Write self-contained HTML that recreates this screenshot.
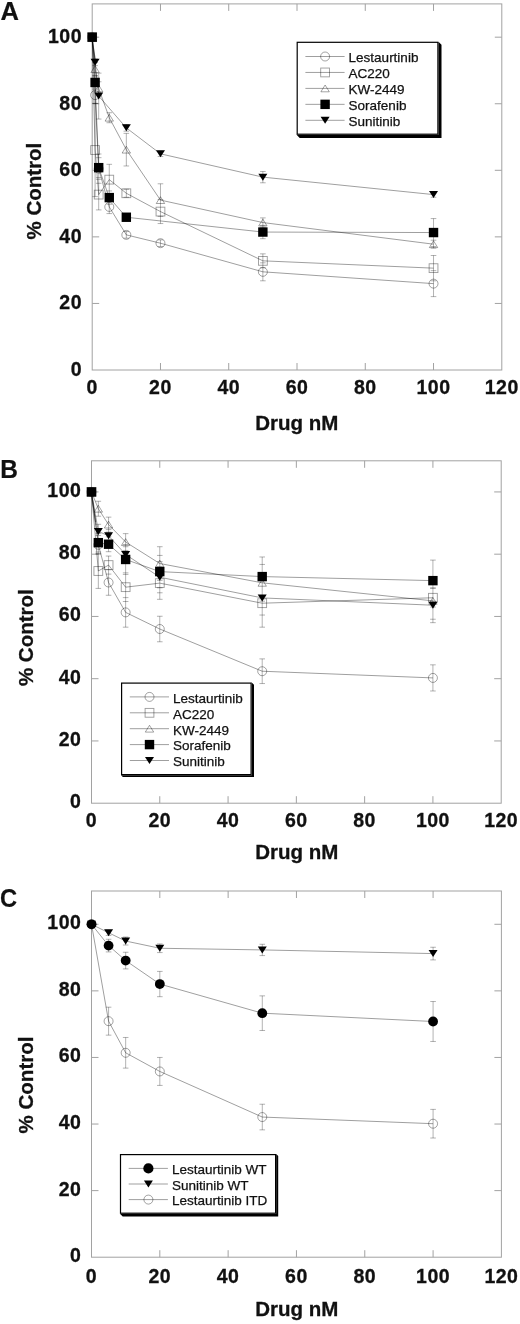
<!DOCTYPE html>
<html><head><meta charset="utf-8"><title>Figure</title>
<style>
html,body{margin:0;padding:0;background:#fff}
svg{display:block;will-change:transform}
text{font-family:"Liberation Sans",sans-serif;fill:#111}
.tk{font-size:19.5px;font-weight:bold;letter-spacing:.5px;stroke:#111;stroke-width:.3px}
.ax{font-size:20.5px;font-weight:bold;stroke:#111;stroke-width:.3px}
.pl{font-size:25.5px;font-weight:bold;stroke:#111;stroke-width:.2px}
.lg{font-size:13.5px;fill:#111;stroke:#111;stroke-width:.25px}
.mk{fill:none;stroke:#000;stroke-opacity:.4;stroke-width:.9}
.ln{fill:none;stroke:#000;stroke-opacity:.42;stroke-width:.9}
.eb{fill:none;stroke:#000;stroke-opacity:.36;stroke-width:.85}
</style></head><body>
<svg width="520" height="1324" viewBox="0 0 520 1324">
<rect width="520" height="1324" fill="#fff"/>
<rect x="92.2" y="3.9" width="409.6" height="366.1" fill="none" stroke="#a2a2a2" stroke-width="1"/>
<path d="M160.47 370 v-7 M160.47 3.9 v7 M228.73 370 v-7 M228.73 3.9 v7 M297 370 v-7 M297 3.9 v7 M365.27 370 v-7 M365.27 3.9 v7 M433.53 370 v-7 M433.53 3.9 v7 M92.2 303.44 h7 M501.8 303.44 h-7 M92.2 236.87 h7 M501.8 236.87 h-7 M92.2 170.31 h7 M501.8 170.31 h-7 M92.2 103.75 h7 M501.8 103.75 h-7 M92.2 37.18 h7 M501.8 37.18 h-7" fill="none" stroke="#a2a2a2" stroke-width="1"/>
<text class="tk" x="92.2" y="394.2" text-anchor="middle">0</text>
<text class="tk" x="160.47" y="394.2" text-anchor="middle">20</text>
<text class="tk" x="228.73" y="394.2" text-anchor="middle">40</text>
<text class="tk" x="297" y="394.2" text-anchor="middle">60</text>
<text class="tk" x="365.27" y="394.2" text-anchor="middle">80</text>
<text class="tk" x="433.53" y="394.2" text-anchor="middle">100</text>
<text class="tk" x="501.8" y="394.2" text-anchor="middle">120</text>
<text class="tk" x="82" y="375.9" text-anchor="end">0</text>
<text class="tk" x="82" y="309.34" text-anchor="end">20</text>
<text class="tk" x="82" y="242.77" text-anchor="end">40</text>
<text class="tk" x="82" y="176.21" text-anchor="end">60</text>
<text class="tk" x="82" y="109.65" text-anchor="end">80</text>
<text class="tk" x="82" y="43.08" text-anchor="end">100</text>
<text class="ax" x="296.8" y="429.6" text-anchor="middle">Drug nM</text>
<text class="ax" transform="translate(41 191.1) rotate(-90)" text-anchor="middle">% Control</text>
<text class="pl" transform="translate(0.4 19.9) scale(1.0 1)">A</text>
<path d="M92.2 37.18 L95.1 95.09 L98.69 168.64 L109.27 206.92 L126.33 234.88 L160.47 243.2 L262.87 271.82 L433.53 283.63" class="ln"/>
<path d="M92.2 37.18 L95.1 150.01 L98.69 194.6 L109.27 179.63 L126.33 193.27 L160.47 211.58 L262.87 260.84 L433.53 268.16" class="ln"/>
<path d="M92.2 37.18 L95.1 69.13 L98.69 88.44 L109.27 117.72 L126.33 149.67 L160.47 200.1 L262.87 222.56 L433.53 244.19" class="ln"/>
<path d="M92.2 37.18 L95.1 82.45 L98.69 167.65 L109.27 197.6 L126.33 217.24 L262.87 232.05 L433.53 232.55" class="ln"/>
<path d="M92.2 37.18 L95.1 62.31 L98.69 96.09 L126.33 127.87 L160.47 153.83 L262.87 177.13 L433.53 194.6" class="ln"/>
<path d="M92.2 40 L95.2 60" stroke="#000" stroke-opacity=".55" stroke-width="1.3" fill="none"/>
<path d="M95.1 58.98V196.6M92.3 58.98h5.6M92.3 65.64h5.6M92.3 62.48h5.6M92.3 75.79h5.6M92.3 75.79h5.6M92.3 89.1h5.6M92.3 86.77h5.6M92.3 103.41h5.6M92.3 103.41h5.6M92.3 196.6h5.6M98.69 73.13V119.06M98.69 154V209.91M95.89 73.13h5.6M95.89 119.06h5.6M95.89 81.78h5.6M95.89 95.09h5.6M95.89 154h5.6M95.89 183.29h5.6M95.89 157.66h5.6M95.89 177.63h5.6M95.89 179.3h5.6M95.89 209.91h5.6M109.27 112.73V122.72M109.27 164.32V213.58M106.47 112.73h5.6M106.47 122.72h5.6M106.47 164.32h5.6M106.47 194.94h5.6M106.47 190.94h5.6M106.47 204.26h5.6M106.47 200.26h5.6M106.47 213.58h5.6M126.33 124.55V131.2M126.33 133.37V165.98M126.33 189.28V197.27M126.33 213.91V220.56M126.33 231.55V238.2M123.53 124.55h5.6M123.53 131.2h5.6M123.53 133.37h5.6M123.53 165.98h5.6M123.53 189.28h5.6M123.53 197.27h5.6M123.53 213.91h5.6M123.53 220.56h5.6M123.53 231.55h5.6M123.53 238.2h5.6M160.47 151.17V156.5M160.47 183.79V223.56M160.47 239.87V246.52M157.67 151.17h5.6M157.67 156.5h5.6M157.67 183.79h5.6M157.67 216.4h5.6M157.67 199.6h5.6M157.67 223.56h5.6M157.67 239.87h5.6M157.67 246.52h5.6M262.87 171.47V182.79M262.87 217.9V238.7M262.87 253.85V280.8M260.07 171.47h5.6M260.07 182.79h5.6M260.07 217.9h5.6M260.07 227.22h5.6M260.07 225.39h5.6M260.07 238.7h5.6M260.07 253.85h5.6M260.07 267.82h5.6M260.07 262.83h5.6M260.07 280.8h5.6M433.53 191.94V197.27M433.53 218.57V248.19M433.53 255.51V296.61M430.73 191.94h5.6M430.73 197.27h5.6M430.73 218.57h5.6M430.73 246.52h5.6M430.73 240.2h5.6M430.73 248.19h5.6M430.73 255.51h5.6M430.73 280.8h5.6M430.73 270.65h5.6M430.73 296.61h5.6" class="eb"/>
<circle cx="92.2" cy="37.18" r="4.5" class="mk"/>
<circle cx="95.1" cy="95.09" r="4.5" class="mk"/>
<circle cx="98.69" cy="168.64" r="4.5" class="mk"/>
<circle cx="109.27" cy="206.92" r="4.5" class="mk"/>
<circle cx="126.33" cy="234.88" r="4.5" class="mk"/>
<circle cx="160.47" cy="243.2" r="4.5" class="mk"/>
<circle cx="262.87" cy="271.82" r="4.5" class="mk"/>
<circle cx="433.53" cy="283.63" r="4.5" class="mk"/>
<rect x="87.8" y="32.78" width="8.8" height="8.8" class="mk"/>
<rect x="90.7" y="145.61" width="8.8" height="8.8" class="mk"/>
<rect x="94.29" y="190.2" width="8.8" height="8.8" class="mk"/>
<rect x="104.87" y="175.23" width="8.8" height="8.8" class="mk"/>
<rect x="121.93" y="188.87" width="8.8" height="8.8" class="mk"/>
<rect x="156.07" y="207.18" width="8.8" height="8.8" class="mk"/>
<rect x="258.47" y="256.44" width="8.8" height="8.8" class="mk"/>
<rect x="429.13" y="263.76" width="8.8" height="8.8" class="mk"/>
<path d="M88 40.58 L96.4 40.58 L92.2 33.78 Z" class="mk"/>
<path d="M90.9 72.53 L99.3 72.53 L95.1 65.73 Z" class="mk"/>
<path d="M94.49 91.84 L102.89 91.84 L98.69 85.04 Z" class="mk"/>
<path d="M105.07 121.12 L113.47 121.12 L109.27 114.32 Z" class="mk"/>
<path d="M122.13 153.07 L130.53 153.07 L126.33 146.27 Z" class="mk"/>
<path d="M156.27 203.5 L164.67 203.5 L160.47 196.7 Z" class="mk"/>
<path d="M258.67 225.96 L267.07 225.96 L262.87 219.16 Z" class="mk"/>
<path d="M429.33 247.59 L437.73 247.59 L433.53 240.79 Z" class="mk"/>
<rect x="87.5" y="32.48" width="9.4" height="9.4" fill="#000"/>
<rect x="90.4" y="77.75" width="9.4" height="9.4" fill="#000"/>
<rect x="93.99" y="162.95" width="9.4" height="9.4" fill="#000"/>
<rect x="104.57" y="192.9" width="9.4" height="9.4" fill="#000"/>
<rect x="121.63" y="212.54" width="9.4" height="9.4" fill="#000"/>
<rect x="258.17" y="227.35" width="9.4" height="9.4" fill="#000"/>
<rect x="428.83" y="227.85" width="9.4" height="9.4" fill="#000"/>
<path d="M87.7 33.68 L96.7 33.68 L92.2 40.68 Z" fill="#000"/>
<path d="M90.6 58.81 L99.6 58.81 L95.1 65.81 Z" fill="#000"/>
<path d="M94.19 92.59 L103.19 92.59 L98.69 99.59 Z" fill="#000"/>
<path d="M121.83 124.37 L130.83 124.37 L126.33 131.37 Z" fill="#000"/>
<path d="M155.97 150.33 L164.97 150.33 L160.47 157.33 Z" fill="#000"/>
<path d="M258.37 173.63 L267.37 173.63 L262.87 180.63 Z" fill="#000"/>
<path d="M429.03 191.1 L438.03 191.1 L433.53 198.1 Z" fill="#000"/>
<path d="M438.5 41.7 L441.5 44.7 L441.5 137.9 L299.7 137.9 L296.6 134.8 L438.5 134.8 Z" fill="#000"/>
<rect x="297.2" y="42.3" width="140.7" height="91.9" fill="#fff" stroke="#000" stroke-width="1.2"/>
<path d="M305.4 56.5 h39.2" class="ln"/>
<circle cx="325.1" cy="56.5" r="4.5" class="mk"/>
<text class="lg" x="348.6" y="62.3">Lestaurtinib</text>
<path d="M305.4 72.45 h39.2" class="ln"/>
<rect x="320.7" y="68.05" width="8.8" height="8.8" class="mk"/>
<text class="lg" x="348.6" y="78.25">AC220</text>
<path d="M305.4 88.4 h39.2" class="ln"/>
<path d="M320.9 91.8 L329.3 91.8 L325.1 85 Z" class="mk"/>
<text class="lg" x="348.6" y="94.2">KW-2449</text>
<path d="M305.4 104.35 h39.2" class="ln"/>
<rect x="320.4" y="99.65" width="9.4" height="9.4" fill="#000"/>
<text class="lg" x="348.6" y="110.15">Sorafenib</text>
<path d="M305.4 120.3 h39.2" class="ln"/>
<path d="M320.6 116.8 L329.6 116.8 L325.1 123.8 Z" fill="#000"/>
<text class="lg" x="348.6" y="126.1">Sunitinib</text>
<rect x="91.5" y="460.8" width="409.7" height="342.4" fill="none" stroke="#a2a2a2" stroke-width="1"/>
<path d="M159.78 803.2 v-7 M159.78 460.8 v7 M228.07 803.2 v-7 M228.07 460.8 v7 M296.35 803.2 v-7 M296.35 460.8 v7 M364.63 803.2 v-7 M364.63 460.8 v7 M432.92 803.2 v-7 M432.92 460.8 v7 M91.5 740.95 h7 M501.2 740.95 h-7 M91.5 678.69 h7 M501.2 678.69 h-7 M91.5 616.44 h7 M501.2 616.44 h-7 M91.5 554.18 h7 M501.2 554.18 h-7 M91.5 491.93 h7 M501.2 491.93 h-7" fill="none" stroke="#a2a2a2" stroke-width="1"/>
<text class="tk" x="91.5" y="827.4" text-anchor="middle">0</text>
<text class="tk" x="159.78" y="827.4" text-anchor="middle">20</text>
<text class="tk" x="228.07" y="827.4" text-anchor="middle">40</text>
<text class="tk" x="296.35" y="827.4" text-anchor="middle">60</text>
<text class="tk" x="364.63" y="827.4" text-anchor="middle">80</text>
<text class="tk" x="432.92" y="827.4" text-anchor="middle">100</text>
<text class="tk" x="501.2" y="827.4" text-anchor="middle">120</text>
<text class="tk" x="81.4" y="808.2" text-anchor="end">0</text>
<text class="tk" x="81.4" y="745.95" text-anchor="end">20</text>
<text class="tk" x="81.4" y="683.69" text-anchor="end">40</text>
<text class="tk" x="81.4" y="621.44" text-anchor="end">60</text>
<text class="tk" x="81.4" y="559.18" text-anchor="end">80</text>
<text class="tk" x="81.4" y="496.93" text-anchor="end">100</text>
<text class="ax" x="296.8" y="858.5" text-anchor="middle">Drug nM</text>
<text class="ax" transform="translate(33.2 637.7) rotate(-90)" text-anchor="middle">% Control</text>
<text class="pl" transform="translate(0.2 478.3) scale(0.96 1)">B</text>
<path d="M91.5 491.93 L98.33 544.84 L108.57 582.51 L125.64 612.39 L159.78 629.01 L262.21 671.22 L432.92 677.91" class="ln"/>
<path d="M91.5 491.93 L98.33 570.99 L108.57 565.08 L125.64 587.18 L159.78 583.13 L262.21 603.21 L432.92 597.76" class="ln"/>
<path d="M91.5 491.93 L98.33 508.74 L108.57 524.61 L125.64 542.04 L159.78 563.52 L262.21 582.82 L432.92 600.87" class="ln"/>
<path d="M91.5 491.93 L98.33 542.66 L108.57 544.22 L125.64 559.47 L159.78 571.61 L262.21 576.59 L432.92 580.64" class="ln"/>
<path d="M91.5 491.93 L98.33 531.46 L108.57 535.82 L125.64 554.49 L159.78 577.22 L262.21 597.92 L432.92 605.23" class="ln"/>
<path d="M91.6 495 L95.6 522" stroke="#000" stroke-opacity=".4" stroke-width="1.2" fill="none"/>
<path d="M98.33 501.27V516.21M98.33 524.3V588.42M95.53 501.27h5.6M95.53 516.21h5.6M95.53 524.3h5.6M95.53 538.62h5.6M95.53 533.33h5.6M95.53 552h5.6M95.53 535.51h5.6M95.53 554.18h5.6M95.53 553.56h5.6M95.53 588.42h5.6M108.57 517.14V551.69M108.57 556.05V595.27M105.77 517.14h5.6M105.77 532.08h5.6M105.77 529.59h5.6M105.77 542.04h5.6M105.77 536.75h5.6M105.77 551.69h5.6M105.77 556.05h5.6M105.77 574.1h5.6M105.77 569.75h5.6M105.77 595.27h5.6M125.64 533.64V627.18M122.84 533.64h5.6M122.84 550.45h5.6M122.84 544.53h5.6M122.84 574.41h5.6M122.84 546.71h5.6M122.84 562.27h5.6M122.84 572.86h5.6M122.84 601.5h5.6M122.84 597.6h5.6M122.84 627.18h5.6M159.78 546.71V599.32M159.78 616.25V641.77M156.98 546.71h5.6M156.98 580.33h5.6M156.98 555.43h5.6M156.98 587.8h5.6M156.98 561.65h5.6M156.98 592.78h5.6M156.98 566.94h5.6M156.98 599.32h5.6M156.98 616.25h5.6M156.98 641.77h5.6M262.21 556.98V627.18M262.21 658.89V683.55M259.41 556.98h5.6M259.41 596.2h5.6M259.41 564.45h5.6M259.41 601.18h5.6M259.41 579.24h5.6M259.41 627.18h5.6M259.41 580.8h5.6M259.41 615.04h5.6M259.41 658.89h5.6M259.41 683.55h5.6M432.92 560.1V622.66M432.92 664.84V690.99M430.12 560.1h5.6M430.12 601.18h5.6M430.12 582.51h5.6M430.12 619.24h5.6M430.12 587.8h5.6M430.12 622.66h5.6M430.12 588.42h5.6M430.12 607.1h5.6M430.12 664.84h5.6M430.12 690.99h5.6" class="eb"/>
<circle cx="91.5" cy="491.93" r="4.5" class="mk"/>
<circle cx="98.33" cy="544.84" r="4.5" class="mk"/>
<circle cx="108.57" cy="582.51" r="4.5" class="mk"/>
<circle cx="125.64" cy="612.39" r="4.5" class="mk"/>
<circle cx="159.78" cy="629.01" r="4.5" class="mk"/>
<circle cx="262.21" cy="671.22" r="4.5" class="mk"/>
<circle cx="432.92" cy="677.91" r="4.5" class="mk"/>
<rect x="87.1" y="487.53" width="8.8" height="8.8" class="mk"/>
<rect x="93.93" y="566.59" width="8.8" height="8.8" class="mk"/>
<rect x="104.17" y="560.68" width="8.8" height="8.8" class="mk"/>
<rect x="121.24" y="582.78" width="8.8" height="8.8" class="mk"/>
<rect x="155.38" y="578.73" width="8.8" height="8.8" class="mk"/>
<rect x="257.81" y="598.81" width="8.8" height="8.8" class="mk"/>
<rect x="428.52" y="593.36" width="8.8" height="8.8" class="mk"/>
<path d="M87.3 495.33 L95.7 495.33 L91.5 488.53 Z" class="mk"/>
<path d="M94.13 512.14 L102.53 512.14 L98.33 505.34 Z" class="mk"/>
<path d="M104.37 528.01 L112.77 528.01 L108.57 521.21 Z" class="mk"/>
<path d="M121.44 545.44 L129.84 545.44 L125.64 538.64 Z" class="mk"/>
<path d="M155.58 566.92 L163.98 566.92 L159.78 560.12 Z" class="mk"/>
<path d="M258.01 586.22 L266.41 586.22 L262.21 579.42 Z" class="mk"/>
<path d="M428.72 604.27 L437.12 604.27 L432.92 597.47 Z" class="mk"/>
<rect x="86.8" y="487.23" width="9.4" height="9.4" fill="#000"/>
<rect x="93.63" y="537.96" width="9.4" height="9.4" fill="#000"/>
<rect x="103.87" y="539.52" width="9.4" height="9.4" fill="#000"/>
<rect x="120.94" y="554.77" width="9.4" height="9.4" fill="#000"/>
<rect x="155.08" y="566.91" width="9.4" height="9.4" fill="#000"/>
<rect x="257.51" y="571.89" width="9.4" height="9.4" fill="#000"/>
<rect x="428.22" y="575.94" width="9.4" height="9.4" fill="#000"/>
<path d="M87 488.43 L96 488.43 L91.5 495.43 Z" fill="#000"/>
<path d="M93.83 527.96 L102.83 527.96 L98.33 534.96 Z" fill="#000"/>
<path d="M104.07 532.32 L113.07 532.32 L108.57 539.32 Z" fill="#000"/>
<path d="M121.14 550.99 L130.14 550.99 L125.64 557.99 Z" fill="#000"/>
<path d="M155.28 573.72 L164.28 573.72 L159.78 580.72 Z" fill="#000"/>
<path d="M257.71 594.42 L266.71 594.42 L262.21 601.42 Z" fill="#000"/>
<path d="M428.42 601.73 L437.42 601.73 L432.92 608.73 Z" fill="#000"/>
<path d="M251.7 682.5 L254 684.8 L254 777.1 L122.9 777.1 L121 775.2 L251.7 775.2 Z" fill="#000"/>
<rect x="121.6" y="683.1" width="129.5" height="91.5" fill="#fff" stroke="#000" stroke-width="1.2"/>
<path d="M129.8 696.9 h39.2" class="ln"/>
<circle cx="149.5" cy="696.9" r="4.5" class="mk"/>
<text class="lg" x="173" y="702.7">Lestaurtinib</text>
<path d="M129.8 712.8 h39.2" class="ln"/>
<rect x="145.1" y="708.4" width="8.8" height="8.8" class="mk"/>
<text class="lg" x="173" y="718.6">AC220</text>
<path d="M129.8 728.7 h39.2" class="ln"/>
<path d="M145.3 732.1 L153.7 732.1 L149.5 725.3 Z" class="mk"/>
<text class="lg" x="173" y="734.5">KW-2449</text>
<path d="M129.8 744.6 h39.2" class="ln"/>
<rect x="144.8" y="739.9" width="9.4" height="9.4" fill="#000"/>
<text class="lg" x="173" y="750.4">Sorafenib</text>
<path d="M129.8 760.5 h39.2" class="ln"/>
<path d="M145 757 L154 757 L149.5 764 Z" fill="#000"/>
<text class="lg" x="173" y="766.3">Sunitinib</text>
<rect x="91.5" y="891" width="409.9" height="366.2" fill="none" stroke="#a2a2a2" stroke-width="1"/>
<path d="M159.82 1257.2 v-7 M159.82 891 v7 M228.13 1257.2 v-7 M228.13 891 v7 M296.45 1257.2 v-7 M296.45 891 v7 M364.77 1257.2 v-7 M364.77 891 v7 M433.08 1257.2 v-7 M433.08 891 v7 M91.5 1190.62 h7 M501.4 1190.62 h-7 M91.5 1124.04 h7 M501.4 1124.04 h-7 M91.5 1057.45 h7 M501.4 1057.45 h-7 M91.5 990.87 h7 M501.4 990.87 h-7 M91.5 924.29 h7 M501.4 924.29 h-7" fill="none" stroke="#a2a2a2" stroke-width="1"/>
<text class="tk" x="91.5" y="1282.6" text-anchor="middle">0</text>
<text class="tk" x="159.82" y="1282.6" text-anchor="middle">20</text>
<text class="tk" x="228.13" y="1282.6" text-anchor="middle">40</text>
<text class="tk" x="296.45" y="1282.6" text-anchor="middle">60</text>
<text class="tk" x="364.77" y="1282.6" text-anchor="middle">80</text>
<text class="tk" x="433.08" y="1282.6" text-anchor="middle">100</text>
<text class="tk" x="501.4" y="1282.6" text-anchor="middle">120</text>
<text class="tk" x="81.4" y="1262.2" text-anchor="end">0</text>
<text class="tk" x="81.4" y="1195.62" text-anchor="end">20</text>
<text class="tk" x="81.4" y="1129.04" text-anchor="end">40</text>
<text class="tk" x="81.4" y="1062.45" text-anchor="end">60</text>
<text class="tk" x="81.4" y="995.87" text-anchor="end">80</text>
<text class="tk" x="81.4" y="929.29" text-anchor="end">100</text>
<text class="ax" x="296.8" y="1316.1" text-anchor="middle">Drug nM</text>
<text class="ax" transform="translate(33.2 1085) rotate(-90)" text-anchor="middle">% Control</text>
<text class="pl" transform="translate(0 906.8) scale(0.93 1)">C</text>
<path d="M91.5 924.29 L108.58 932.78 L125.66 941.04 L159.82 948.26 L262.29 949.92 L433.08 953.59" class="ln"/>
<path d="M91.5 924.29 L108.58 945.6 L125.66 960.58 L159.82 984.05 L262.29 1013.18 L433.08 1021.5" class="ln"/>
<path d="M91.5 924.29 L108.58 1021.17 L125.66 1052.79 L159.82 1071.44 L262.29 1117.05 L433.08 1123.7" class="ln"/>
<path d="M108.58 930.12V935.44M108.58 939.27V951.92M108.58 1007.19V1035.15M105.78 930.12h5.6M105.78 935.44h5.6M105.78 939.27h5.6M105.78 951.92h5.6M105.78 1007.19h5.6M105.78 1035.15h5.6M125.66 937.04V945.03M125.66 952.26V968.9M125.66 1037.48V1068.11M122.86 937.04h5.6M122.86 945.03h5.6M122.86 952.26h5.6M122.86 968.9h5.6M122.86 1037.48h5.6M122.86 1068.11h5.6M159.82 943.93V952.59M159.82 971.4V996.7M159.82 1057.45V1085.42M157.02 943.93h5.6M157.02 952.59h5.6M157.02 971.4h5.6M157.02 996.7h5.6M157.02 1057.45h5.6M157.02 1085.42h5.6M262.29 944.27V955.58M262.29 995.87V1030.49M262.29 1104.23V1129.86M259.49 944.27h5.6M259.49 955.58h5.6M259.49 995.87h5.6M259.49 1030.49h5.6M259.49 1104.23h5.6M259.49 1129.86h5.6M433.08 947.26V959.91M433.08 1001.53V1041.47M433.08 1109.39V1138.02M430.28 947.26h5.6M430.28 959.91h5.6M430.28 1001.53h5.6M430.28 1041.47h5.6M430.28 1109.39h5.6M430.28 1138.02h5.6" class="eb"/>
<path d="M87 920.79 L96 920.79 L91.5 927.79 Z" fill="#000"/>
<path d="M104.08 929.28 L113.08 929.28 L108.58 936.28 Z" fill="#000"/>
<path d="M121.16 937.54 L130.16 937.54 L125.66 944.54 Z" fill="#000"/>
<path d="M155.32 944.76 L164.32 944.76 L159.82 951.76 Z" fill="#000"/>
<path d="M257.79 946.42 L266.79 946.42 L262.29 953.42 Z" fill="#000"/>
<path d="M428.58 950.09 L437.58 950.09 L433.08 957.09 Z" fill="#000"/>
<circle cx="91.5" cy="924.29" r="4.9" fill="#000"/>
<circle cx="108.58" cy="945.6" r="4.9" fill="#000"/>
<circle cx="125.66" cy="960.58" r="4.9" fill="#000"/>
<circle cx="159.82" cy="984.05" r="4.9" fill="#000"/>
<circle cx="262.29" cy="1013.18" r="4.9" fill="#000"/>
<circle cx="433.08" cy="1021.5" r="4.9" fill="#000"/>
<circle cx="91.5" cy="924.29" r="4.5" class="mk"/>
<circle cx="108.58" cy="1021.17" r="4.5" class="mk"/>
<circle cx="125.66" cy="1052.79" r="4.5" class="mk"/>
<circle cx="159.82" cy="1071.44" r="4.5" class="mk"/>
<circle cx="262.29" cy="1117.05" r="4.5" class="mk"/>
<circle cx="433.08" cy="1123.7" r="4.5" class="mk"/>
<path d="M276.2 1154 L278.2 1156 L278.2 1216.6 L122.7 1216.6 L119.9 1213.8 L276.2 1213.8 Z" fill="#000"/>
<rect x="120.5" y="1154.6" width="155.1" height="58.6" fill="#fff" stroke="#000" stroke-width="1.2"/>
<path d="M128.7 1168.4 h39.2" class="ln"/>
<circle cx="148.4" cy="1168.4" r="5.1" fill="#000"/>
<text class="lg" x="171.9" y="1174.2">Lestaurtinib WT</text>
<path d="M128.7 1184 h39.2" class="ln"/>
<path d="M143.9 1180.5 L152.9 1180.5 L148.4 1187.5 Z" fill="#000"/>
<text class="lg" x="171.9" y="1189.8">Sunitinib WT</text>
<path d="M128.7 1199.6 h39.2" class="ln"/>
<circle cx="148.4" cy="1199.6" r="4.5" class="mk"/>
<text class="lg" x="171.9" y="1205.4">Lestaurtinib ITD</text>
</svg>
</body></html>
